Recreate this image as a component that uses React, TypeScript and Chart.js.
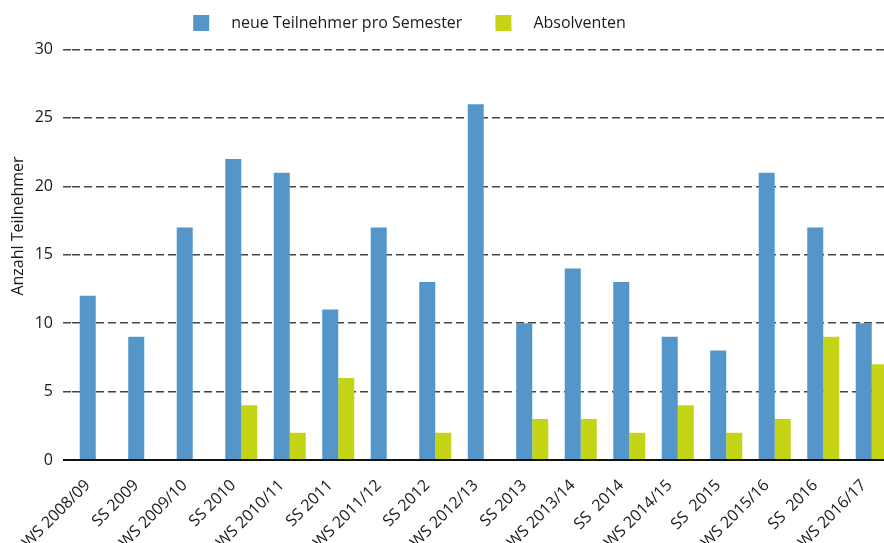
import React, { useEffect, useRef } from 'react';
import { Chart, registerables } from 'chart.js';

Chart.register(...registerables);

// ---- data ----
const categories = [
  'WS 2008/09', 'SS 2009', 'WS 2009/10', 'SS 2010', 'WS 2010/11', 'SS 2011',
  'WS 2011/12', 'SS 2012', 'WS 2012/13', 'SS 2013', 'WS 2013/14', 'SS  2014',
  'WS 2014/15', 'SS  2015', 'WS 2015/16', 'SS  2016', 'WS 2016/17',
];
const neueTeilnehmer = [12, 9, 17, 22, 21, 11, 17, 13, 26, 10, 14, 13, 9, 8, 21, 17, 10];
const absolventen = [0, 0, 0, 4, 2, 6, 0, 2, 0, 3, 3, 2, 4, 2, 3, 9, 7];
const seriesLabels = ['neue Teilnehmer pro Semester', 'Absolventen'];
const yAxisTitle = 'Anzahl Teilnehmer';
const yMin = 0;
const yMax = 30;
const yStep = 5;

// ---- style ----
const BLUE = '#5496CA';
const GREEN = '#C5D415';
const TEXT = '#1a1a1a';
const GRID = '#444444';
const FONT = "'Open Sans', sans-serif";

const OFFSET_X = 95; // canvas shifted left inside the clipped viewport
const CANVAS_W = 994;
const CANVAS_H = 570;
const PLOT_BOTTOM = 460;
const PLOT_LEFT = 71.5;

function swatch(color: string) {
  const c = document.createElement('canvas');
  c.width = 48;
  c.height = 16;
  const g = c.getContext('2d')!;
  g.fillStyle = color;
  g.fillRect(18, 0, 16, 16);
  return c;
}

const legendGap = {
  id: 'legendGap',
  beforeLayout(chart: any) {
    const lg = chart.legend;
    if (lg && !lg.__gap) {
      const fit = lg.fit;
      lg.fit = function () {
        fit.call(this);
        this.height += 8.5;
      };
      lg.__gap = true;
    }
  },
};

const yTitle = {
  id: 'yTitle',
  afterDraw(chart: any) {
    const ctx = chart.ctx;
    ctx.save();
    ctx.translate(OFFSET_X + 18, 226);
    ctx.rotate(-Math.PI / 2);
    ctx.font = `16px ${FONT}`;
    ctx.fillStyle = TEXT;
    ctx.textAlign = 'center';
    ctx.textBaseline = 'middle';
    ctx.fillText(yAxisTitle, 0, 0);
    ctx.restore();
  },
};

export default function App() {
  const ref = useRef<HTMLCanvasElement>(null);

  useEffect(() => {
    if (!ref.current) return;
    const swatches = [swatch(BLUE), swatch(GREEN)];
    const isZero = (c: any) => c.tick && c.tick.value === 0;
    const chart = new Chart(ref.current, {
      type: 'bar',
      data: {
        labels: categories,
        datasets: [
          {
            label: seriesLabels[0],
            data: neueTeilnehmer,
            backgroundColor: BLUE,
            borderWidth: 0,
            categoryPercentage: 0.66,
            barPercentage: 1,
          },
          {
            label: seriesLabels[1],
            data: absolventen,
            backgroundColor: GREEN,
            borderWidth: 0,
            categoryPercentage: 0.66,
            barPercentage: 1,
          },
        ],
      },
      options: {
        responsive: false,
        animation: false,
        devicePixelRatio: 1,
        layout: { padding: { left: 0, right: 3, top: 0, bottom: 0 } },
        plugins: {
          legend: {
            position: 'top',
            align: 'center',
            labels: {
              usePointStyle: true,
              pointStyleWidth: 48,
              boxHeight: 16,
              padding: 15,
              color: TEXT,
              font: { family: FONT, size: 16 },
              generateLabels: (c: any) =>
                (Chart.defaults.plugins.legend.labels as any)
                  .generateLabels(c)
                  .map((item: any, i: number) => ({ ...item, pointStyle: swatches[i], lineWidth: 0 })),
            },
          },
          tooltip: { enabled: false },
        },
        scales: {
          x: {
            grid: {
              display: true,
              drawOnChartArea: false,
              drawTicks: true,
              tickLength: 10,
              tickColor: 'rgba(0,0,0,0)',
            },
            border: { display: false },
            ticks: {
              autoSkip: false,
              maxRotation: 45,
              minRotation: 45,
              color: TEXT,
              font: { family: FONT, size: 16 },
              padding: 6,
              labelOffset: -8,
            },
            afterFit: (s: any) => {
              s.height = CANVAS_H - PLOT_BOTTOM;
            },
          },
          y: {
            min: yMin,
            max: yMax,
            ticks: {
              stepSize: yStep,
              color: TEXT,
              font: { family: FONT, size: 16 },
              padding: 10,
            },
            border: {
              display: false,
              dash: (c: any) => (isZero(c) ? [] : [8, 4]),
            },
            grid: {
              color: (c: any) => (isZero(c) ? '#111111' : GRID),
              lineWidth: (c: any) => (isZero(c) ? 2 : 1.5),
              tickLength: 8.5,
              tickColor: (c: any) => (isZero(c) ? '#111111' : GRID),
              tickWidth: (c: any) => (isZero(c) ? 2 : 1.5),
              tickBorderDash: (c: any) => (isZero(c) ? [] : [8, 4]),
            },
            afterFit: (s: any) => {
              s.width = PLOT_LEFT + OFFSET_X;
            },
          },
        },
      },
      plugins: [legendGap, yTitle],
    } as any);
    return () => chart.destroy();
  }, []);

  return (
    <div
      style={{
        position: 'fixed',
        left: 0,
        top: 0,
        width: 884,
        height: 543,
        overflow: 'hidden',
        background: '#ffffff',
      }}
    >
      <canvas
        ref={ref}
        width={CANVAS_W}
        height={CANVAS_H}
        style={{ position: 'absolute', left: -OFFSET_X, top: 0, width: CANVAS_W, height: CANVAS_H }}
      />
    </div>
  );
}
